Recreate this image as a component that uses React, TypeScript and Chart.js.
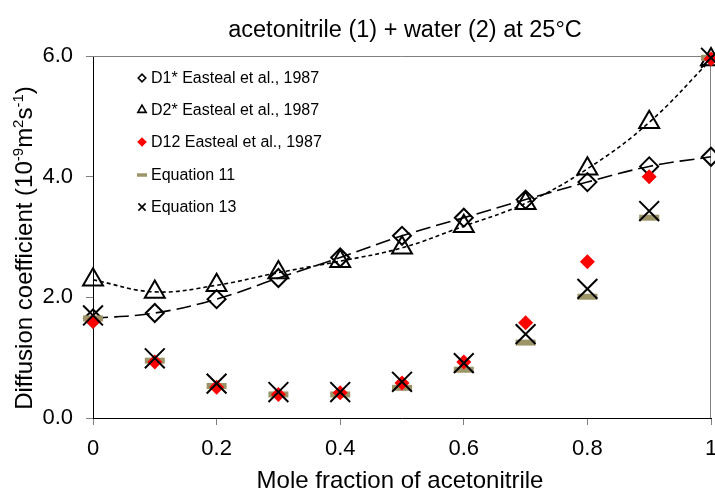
import React, { useEffect, useRef } from "react";
import { Chart, registerables } from "chart.js";

Chart.register(...registerables);

// ---- data ----
const moleFraction = [0, 0.1, 0.2, 0.3, 0.4, 0.5, 0.6, 0.7, 0.8, 0.9, 1.0];
const d1Star = [1.65, 1.74, 1.97, 2.32, 2.66, 3.02, 3.32, 3.62, 3.91, 4.17, 4.33];
const d2Star = [2.29, 2.09, 2.2, 2.41, 2.6, 2.82, 3.18, 3.56, 4.13, 4.9, 5.94];
const d12 = [1.6, 0.93, 0.51, 0.39, 0.42, 0.58, 0.93, 1.58, 2.59, 4.0, 5.95];
const equation11 = [1.65, 0.95, 0.53, 0.39, 0.39, 0.5, 0.8, 1.25, 2.01, 3.32, 5.97];
const equation13 = [1.7, 0.99, 0.57, 0.43, 0.43, 0.6, 0.91, 1.39, 2.14, 3.43, 5.97];

const xTickValues = [0, 0.2, 0.4, 0.6, 0.8, 1];
const xTickLabels = ["0", "0.2", "0.4", "0.6", "0.8", "1"];
const yTickStep = 2;
const chartTitle = "acetonitrile (1) + water (2) at 25°C";
const xAxisTitle = "Mole fraction of acetonitrile";
const yAxisTitleParts: [string, boolean][] = [
  ["Diffusion coefficient (10", false],
  ["-9", true],
  ["m", false],
  ["2", true],
  ["s", false],
  ["-1", true],
  [")", false],
];
const legendLabels = [
  "D1* Easteal et al., 1987",
  "D2* Easteal et al., 1987",
  "D12 Easteal et al., 1987",
  "Equation 11",
  "Equation 13",
];

const FONT = '"Liberation Sans", Arial, sans-serif';
const OLIVE = "#9d9568";

const pts = (ys: number[]) => moleFraction.map((x, i) => ({ x, y: ys[i] }));

function drawLegendMarker(ctx: CanvasRenderingContext2D, kind: number, x: number, y: number) {
  ctx.save();
  ctx.beginPath();
  if (kind === 0) {
    const r = 3.8;
    ctx.moveTo(x - r, y);
    ctx.lineTo(x, y - r);
    ctx.lineTo(x + r, y);
    ctx.lineTo(x, y + r);
    ctx.closePath();
    ctx.lineWidth = 1.6;
    ctx.strokeStyle = "#000";
    ctx.stroke();
  } else if (kind === 1) {
    const r = 4.8;
    ctx.moveTo(x, y - r);
    ctx.lineTo(x + r * 0.866, y + r * 0.5);
    ctx.lineTo(x - r * 0.866, y + r * 0.5);
    ctx.closePath();
    ctx.lineWidth = 1.6;
    ctx.strokeStyle = "#000";
    ctx.stroke();
  } else if (kind === 2) {
    const r = 4.8;
    ctx.moveTo(x - r, y);
    ctx.lineTo(x, y - r);
    ctx.lineTo(x + r, y);
    ctx.lineTo(x, y + r);
    ctx.closePath();
    ctx.fillStyle = "#ff0000";
    ctx.fill();
  } else if (kind === 3) {
    ctx.moveTo(x - 5, y);
    ctx.lineTo(x + 5, y);
    ctx.lineWidth = 3.5;
    ctx.strokeStyle = OLIVE;
    ctx.stroke();
  } else {
    const r = 3.6;
    ctx.moveTo(x - r, y - r);
    ctx.lineTo(x + r, y + r);
    ctx.moveTo(x + r, y - r);
    ctx.lineTo(x - r, y + r);
    ctx.lineWidth = 1.6;
    ctx.strokeStyle = "#000";
    ctx.stroke();
  }
  ctx.restore();
}

const decorPlugin = {
  id: "decor",
  beforeDatasetsDraw(chart: any) {
    const { ctx, chartArea: a } = chart;
    ctx.save();
    ctx.strokeStyle = "#808080";
    ctx.lineWidth = 1;
    ctx.beginPath();
    ctx.moveTo(a.left, a.top + 0.5);
    ctx.lineTo(a.right - 0.5, a.top + 0.5);
    ctx.lineTo(a.right - 0.5, a.bottom);
    ctx.stroke();
    ctx.restore();
  },
  afterDraw(chart: any) {
    const { ctx, chartArea: a } = chart;
    const xScale = chart.scales.x;
    ctx.save();
    ctx.fillStyle = "#000";
    // x tick labels
    ctx.font = `22px ${FONT}`;
    ctx.textAlign = "center";
    ctx.textBaseline = "alphabetic";
    xTickValues.forEach((v, i) => {
      ctx.fillText(xTickLabels[i], xScale.getPixelForValue(v), 455);
    });
    // chart title
    ctx.font = `23.5px ${FONT}`;
    ctx.fillText(chartTitle, (a.left + a.right) / 2 + 3, 37);
    // x axis title
    ctx.font = `24px ${FONT}`;
    ctx.fillText(xAxisTitle, (a.left + a.right) / 2 - 2, 488);
    // y axis title (rotated, with superscripts)
    const mainFont = `24px ${FONT}`;
    const supFont = `15px ${FONT}`;
    let total = 0;
    for (const [t, sup] of yAxisTitleParts) {
      ctx.font = sup ? supFont : mainFont;
      total += ctx.measureText(t).width;
    }
    ctx.translate(32, 248);
    ctx.rotate(-Math.PI / 2);
    ctx.textAlign = "left";
    let cx = -total / 2;
    for (const [t, sup] of yAxisTitleParts) {
      ctx.font = sup ? supFont : mainFont;
      ctx.fillText(t, cx, sup ? -9 : 0);
      cx += ctx.measureText(t).width;
    }
    ctx.restore();

    // legend
    ctx.save();
    ctx.font = `16px ${FONT}`;
    ctx.textAlign = "left";
    ctx.textBaseline = "middle";
    ctx.fillStyle = "#000";
    const rowsY = [78, 110, 142, 175, 207];
    legendLabels.forEach((label, i) => {
      drawLegendMarker(ctx, i, 142, rowsY[i]);
      ctx.fillText(label, 151, rowsY[i] + 1);
    });
    ctx.restore();
  },
};

export default function App() {
  const ref = useRef<HTMLCanvasElement | null>(null);
  useEffect(() => {
    document.body.style.margin = "0";
    const canvas = ref.current;
    if (!canvas) return;
    const chart = new Chart(canvas, {
      type: "line",
      data: {
        datasets: [
          {
            label: legendLabels[4],
            data: pts(equation13),
            showLine: false,
            pointStyle: "crossRot",
            pointRadius: 14,
            pointBorderWidth: 2,
            pointBorderColor: "#000",
            pointBackgroundColor: "#000",
            order: 0,
            clip: false,
          },
          {
            label: legendLabels[2],
            data: pts(d12),
            showLine: false,
            pointStyle: "rectRot",
            pointRadius: 7.5,
            pointBorderWidth: 0,
            pointBorderColor: "#ff0000",
            pointBackgroundColor: "#ff0000",
            order: 1,
            clip: false,
          },
          {
            label: legendLabels[3],
            data: pts(equation11),
            showLine: false,
            pointStyle: "line",
            pointRadius: 10,
            pointBorderWidth: 6,
            pointBorderColor: OLIVE,
            pointBackgroundColor: OLIVE,
            order: 2,
            clip: false,
          },
          {
            label: legendLabels[0],
            data: pts(d1Star),
            showLine: true,
            borderColor: "#000",
            borderWidth: 1.6,
            borderDash: [15, 6],
            tension: 0.4,
            pointStyle: "rectRot",
            pointRadius: 9,
            pointBorderWidth: 2,
            pointBorderColor: "#000",
            pointBackgroundColor: "rgba(0,0,0,0)",
            order: 3,
            clip: false,
          },
          {
            label: legendLabels[1],
            data: pts(d2Star),
            showLine: true,
            borderColor: "#000",
            borderWidth: 1.6,
            borderDash: [4, 3],
            tension: 0.4,
            pointStyle: "triangle",
            pointRadius: 11.5,
            pointBorderWidth: 2,
            pointBorderColor: "#000",
            pointBackgroundColor: "rgba(0,0,0,0)",
            order: 4,
            clip: false,
          },
        ],
      },
      options: {
        responsive: false,
        animation: false,
        events: [],
        layout: { autoPadding: false, padding: { top: 56, right: 4, left: 0, bottom: 0 } },
        plugins: {
          legend: { display: false },
          title: { display: false },
          tooltip: { enabled: false },
        },
        scales: {
          x: {
            type: "linear",
            min: 0,
            max: 1,
            afterBuildTicks: (s: any) => {
              s.ticks = xTickValues.map((v) => ({ value: v }));
            },
            afterFit: (s: any) => {
              s.height = 73;
            },
            ticks: {
              display: false,
            },
            grid: { drawOnChartArea: false, drawTicks: true, tickLength: 7, color: "#808080" },
            border: { color: "#000", width: 1 },
          },
          y: {
            type: "linear",
            min: 0,
            max: 6,
            afterFit: (s: any) => {
              s.width = 93;
              s.paddingTop = 0;
              s.paddingBottom = 0;
            },
            ticks: {
              stepSize: yTickStep,
              color: "#000",
              font: { family: FONT, size: 22 },
              padding: 13,
              callback: (v: any) => Number(v).toFixed(1),
            },
            grid: { drawOnChartArea: false, tickLength: 7, color: "#808080" },
            border: { color: "#000", width: 1 },
          },
        },
      },
      plugins: [decorPlugin],
    } as any);
    return () => chart.destroy();
  }, []);
  return <canvas ref={ref} width={715} height={491} style={{ display: "block" }} />;
}
